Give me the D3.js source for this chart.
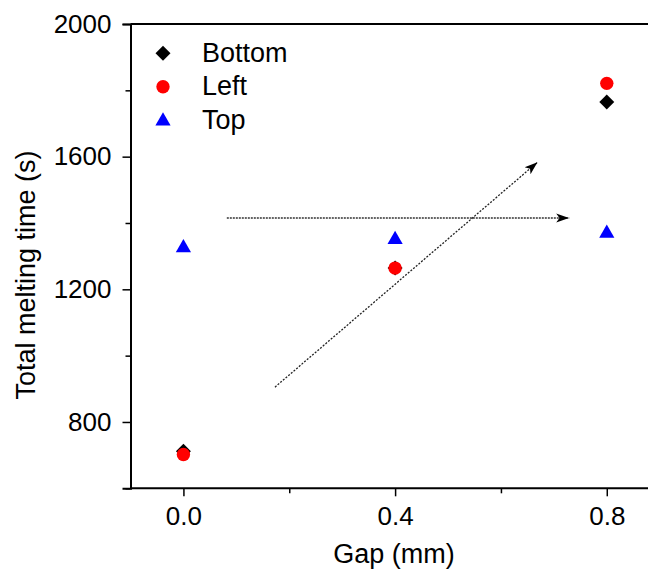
<!DOCTYPE html>
<html><head><meta charset="utf-8">
<script src="https://cdn.jsdelivr.net/npm/d3@7"></script>
<style>body{margin:0;background:#fff}svg{display:block;font-family:"Liberation Sans",Arial,sans-serif}</style>
</head><body><svg id="c" width="648" height="572"></svg>
<script>
const gaps = [0.0, 0.4, 0.8];
const bottomVals = [712, 1264, 1765];
const leftVals = [702, 1264, 1821];
const topVals = [1328, 1353, 1372];
const xTicks = [0.0, 0.4, 0.8];
const xMinor = [0.2, 0.6];
const yTicks = [800, 1200, 1600, 2000];
const yMinor = [600, 1000, 1400, 1800];
const arrowH = [[0.082, 1415], [0.729, 1415]];
const arrowD = [[0.173, 905], [0.669, 1583]];
const seriesNames = ["Bottom","Left","Top"];

const svg = d3.select("#c");
const L = 130.5, T = 24, B = 488.3;
const x = d3.scaleLinear().domain([-0.1, 0.9]).range([L, L + 529.2]);
const y = d3.scaleLinear().domain([600, 2000]).range([B, T]);

svg.append("defs").append("marker").attr("id","ah").attr("viewBox","0 0 10 10")
  .attr("refX",10).attr("refY",5).attr("markerWidth",13).attr("markerHeight",13)
  .attr("markerUnits","userSpaceOnUse").attr("orient","auto")
  .append("path").attr("d","M0,1.5 L10,5 L0,8.5 L2.5,5 Z").attr("fill","#000");

// axes
svg.append("g").attr("class","xa").attr("transform",`translate(0,${B})`)
  .call(d3.axisBottom(x).tickValues(xTicks).tickFormat(d3.format(".1f")).tickSize(8).tickPadding(10));
svg.append("g").attr("transform",`translate(0,${B})`)
  .call(d3.axisBottom(x).tickValues(xMinor).tickFormat("").tickSize(5)).select(".domain").remove();
svg.append("g").attr("transform",`translate(${L},0)`)
  .call(d3.axisLeft(y).tickValues(yTicks).tickFormat(d3.format("d")).tickSize(8).tickPadding(11));
svg.append("g").attr("transform",`translate(${L},0)`)
  .call(d3.axisLeft(y).tickValues(yMinor).tickFormat("").tickSize(5)).select(".domain").remove();
svg.selectAll(".tick text").style("font-size","26px").style("fill","#000").style("font-family","'Liberation Sans',Arial,sans-serif");
svg.selectAll(".domain").attr("stroke","#000").attr("stroke-width",2);
svg.selectAll(".tick line").attr("stroke","#000").attr("stroke-width",1.5);
svg.select(".xa .domain").attr("d",`M${L},0H${x(0.9)}`);
// top border
svg.append("line").attr("x1",L).attr("x2",x(0.9)).attr("y1",T).attr("y2",T).attr("stroke","#000").attr("stroke-width",2);

// axis titles
svg.append("text").attr("x",394).attr("y",563).attr("text-anchor","middle").style("font-size","27px").text("Gap (mm)");
svg.append("text").attr("transform","translate(35,275) rotate(-90)").attr("text-anchor","middle").style("font-size","27px").text("Total melting time (s)");

// arrows
svg.append("line").attr("x1",x(arrowH[0][0])).attr("y1",y(arrowH[0][1])).attr("x2",x(arrowH[1][0])).attr("y2",y(arrowH[1][1]))
  .attr("stroke","#333").attr("stroke-width",1.5).attr("stroke-dasharray","2,1").attr("marker-end","url(#ah)");
svg.append("line").attr("x1",x(arrowD[0][0])).attr("y1",y(arrowD[0][1])).attr("x2",x(arrowD[1][0])).attr("y2",y(arrowD[1][1]))
  .attr("stroke","#222").attr("stroke-width",1.3).attr("stroke-dasharray","2,1.5").attr("marker-end","url(#ah)");

const diamond = d3.symbol().type(d3.symbolSquare).size(112)();
const tri = d3.symbol().type(d3.symbolTriangle).size(100)();
// series
svg.append("g").selectAll("path").data(gaps).join("path")
  .attr("d",diamond).attr("fill","#000")
  .attr("transform",(d,i)=>`translate(${x(d)},${y(bottomVals[i])}) rotate(45)`);
svg.append("g").selectAll("circle").data(gaps).join("circle")
  .attr("cx",d=>x(d)).attr("cy",(d,i)=>y(leftVals[i])).attr("r",6.7).attr("fill","#ff0000");
svg.append("g").selectAll("path").data(gaps).join("path")
  .attr("d",tri).attr("fill","#0000ff")
  .attr("transform",(d,i)=>`translate(${x(d)},${y(topVals[i])+1})`);

// legend
const leg = svg.append("g");
seriesNames.forEach((n,i)=>{
  const cy = 53.3 + i*33.4;
  if(i===0) leg.append("path").attr("d",diamond).attr("fill","#000").attr("transform",`translate(163,${cy}) rotate(45)`);
  if(i===1) leg.append("circle").attr("cx",163).attr("cy",cy).attr("r",6.7).attr("fill","#ff0000");
  if(i===2) leg.append("path").attr("d",tri).attr("fill","#0000ff").attr("transform",`translate(163,${cy+1})`);
  leg.append("text").attr("x",202).attr("y",cy+8.5).style("font-size","27px").text(n);
});
</script></body></html>
